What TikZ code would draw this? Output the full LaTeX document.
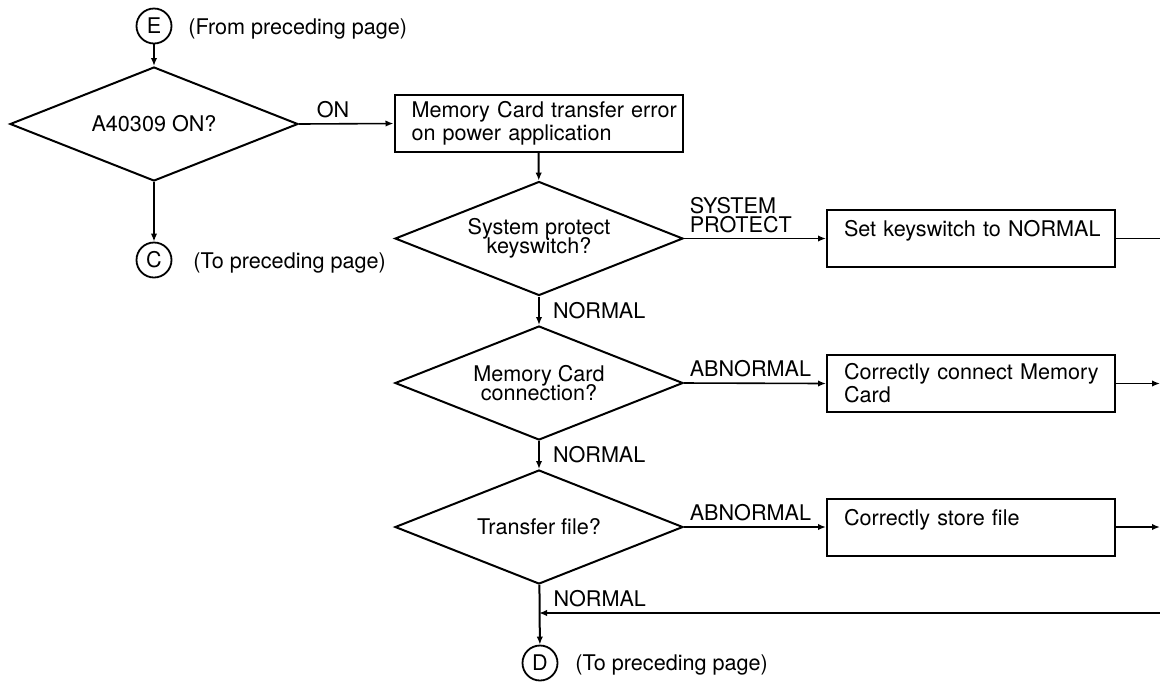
\documentclass[tikz,border=0pt]{standalone}
\usepackage{fontspec}
\setmainfont{TeX Gyre Heros}
\usetikzlibrary{arrows.meta,shapes.geometric,positioning}

\begin{document}
\lineskiplimit=-5pt
\begin{tikzpicture}[x=0.5pt, y=-0.5pt, >={Latex[length=4pt,width=3.2pt]},
    font=\fontsize{10.8}{9.6}\selectfont,
    decision/.style={draw, diamond, aspect=2.5, inner sep=0pt, line width=1pt,
                     minimum width=144pt, minimum height=57pt, align=center,
                     font=\fontsize{10.8}{9.4}\selectfont},
    action/.style={draw, rectangle, line width=1pt, inner xsep=0pt, text width=144pt,
                   minimum height=28.5pt, align=left,
                   execute at begin node={\leftskip=8.5pt\hyphenpenalty=10000}},
    connector/.style={draw, circle, line width=0.9pt, inner sep=0pt, minimum size=17.5pt},
    flow/.style={->, line width=1pt},
    side/.style={->, line width=0.8pt},
    lbl/.style={inner sep=2.5pt, align=left}]
  \useasboundingbox (0,0) rectangle (1160,682);

  % --- page connectors ---
  \node[connector] (E) at (154,26) {E};
  \node[right=4.5pt of E, yshift=-1.5pt] (fromE) {(From preceding page)};
  \node[connector] (C) at (154,260) {C};
  \node[right=7pt of C, yshift=-1.5pt] (toC) {(To preceding page)};
  \node[connector] (D) at (540,663) {D};
  \node[right=5pt of D, yshift=-1pt] (toD) {(To preceding page)};

  % --- decisions ---
  \node[decision] (dOn)   at (154,124)   {A40309 ON?};
  \node[decision] (dKey)  at (539,238.5) {System protect\\keyswitch?};
  \node[decision] (dCard) at (539,383)   {Memory Card\\connection?};
  \node[decision] (dFile) at (539,527)   {Transfer file?};

  % --- actions ---
  \node[action] (err)   at (538.5,123.5) {Memory Card transfer error\\on power application};
  \node[action] (keys)  at (971,238.5)   {Set keyswitch to NORMAL\\\mbox{}};
  \node[action] (conn)  at (971,383.5)   {Correctly connect Memory\\Card};
  \node[action] (store) at (971,527)     {Correctly store file\\\mbox{}};

  % --- free ends at the page edge ---
  \coordinate (keysOut)  at (1160,238.5);
  \coordinate (connOut)  at (1160,383.5);
  \coordinate (storeOut) at (1160,527);
  \coordinate (back)     at (1160,613);
  \coordinate (join)     at (539,613);

  % --- main flow ---
  \draw[flow] (E) -- (dOn);
  \draw[flow] (dOn) -- (C);
  \draw[side] (dOn.east) -- node[lbl, pos=0.36, above] (on) {ON} (err.west);
  \draw[flow] (err) -- (dKey);
  \draw[side] (dKey.east) -- node[lbl, pos=0, above right] (sysprot) {SYSTEM\\PROTECT} (keys.west);
  \draw[flow] (dKey) -- node[lbl, right=4pt] (nKey) {NORMAL} (dCard);
  \draw[side] (dCard.east) -- node[lbl, pos=0, above right] (abCard) {ABNORMAL} (conn.west);
  \draw[flow] (dCard) -- node[lbl, right=4pt] (nCard) {NORMAL} (dFile);
  \draw[side] (dFile.east) -- node[lbl, pos=0, above right] (abFile) {ABNORMAL} (store.west);
  \draw[flow] (dFile) -- node[lbl, pos=0.23, right=4pt] (nFile) {NORMAL} (D);

  % --- returns to the right-hand bus ---
  \draw[line width=0.8pt] (keys.east) -- (keysOut);
  \draw[side] (conn.east) -- (connOut);
  \draw[side] (store.east) -- (storeOut);
  \draw[side] (back) -- (join);
\end{tikzpicture}
\end{document}
